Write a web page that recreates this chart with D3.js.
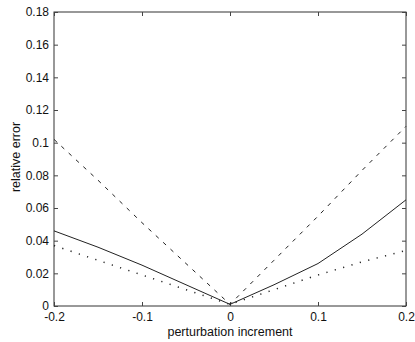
<html>
<head>
<script src="https://cdn.jsdelivr.net/npm/d3@7"></script>
<style>
  body { margin:0; background:#fff; }
  text { font-family: "Liberation Sans", Arial, sans-serif; fill:#111; }
  .line { fill:none; stroke:#222; }
</style>
</head>
<body>
<script>
// data
var xs        = [-0.2, -0.15, -0.1, -0.05, 0, 0.05, 0.1, 0.15, 0.2];
var solidVals = [0.046, 0.036, 0.025, 0.013, 0.001, 0.013, 0.026, 0.044, 0.065];
var dashVals  = [0.102, 0.077, 0.051, 0.026, 0.001, 0.028, 0.055, 0.083, 0.110];
var dotVals   = [0.037, 0.028, 0.019, 0.010, 0.001, 0.010, 0.019, 0.027, 0.034];
var xTicks = [-0.2, -0.1, 0, 0.1, 0.2];
var yTicks = [0, 0.02, 0.04, 0.06, 0.08, 0.1, 0.12, 0.14, 0.16, 0.18];

var margin = {top:12, left:54, right:9, bottom:36},
    W = 415, H = 342,
    width = W - margin.left - margin.right,
    height = H - margin.top - margin.bottom;

var x = d3.scaleLinear().domain([-0.2, 0.2]).range([0, width]);
var y = d3.scaleLinear().domain([0, 0.18]).range([height, 0]);

var svg = d3.select("body").append("svg").attr("width", W).attr("height", H);
var g = svg.append("g").attr("transform", "translate(" + margin.left + "," + margin.top + ")");

// box
g.append("rect").attr("width", width).attr("height", height)
  .attr("fill", "none").attr("stroke", "#333").attr("stroke-width", 1);

// axes with inward ticks
var fmt = function(d){ return d === 0 ? "0" : String(+d.toFixed(2)); };
g.append("g").attr("transform", "translate(0," + height + ")")
  .call(d3.axisBottom(x).tickValues(xTicks).tickSize(-4).tickPadding(6).tickFormat(fmt));
g.append("g")
  .call(d3.axisLeft(y).tickValues(yTicks).tickSize(-4).tickPadding(5).tickFormat(fmt));
g.append("g").attr("transform", "translate(" + width + ",0)")
  .call(d3.axisRight(y).tickValues(yTicks).tickSize(-4).tickFormat(""));
g.append("g")
  .call(d3.axisTop(x).tickValues(xTicks).tickSize(-4).tickFormat(""));
g.selectAll(".domain").remove();
g.selectAll(".tick line").attr("stroke", "#444");
g.selectAll(".tick text").style("font-size", "12px").attr("fill", "#111");

function mk(vals) {
  return d3.line()
    .x(function(d, i){ return x(xs[i]); }).y(function(d){ return y(d); })(vals);
}
g.append("path").attr("class", "line").attr("d", mk(solidVals)).attr("stroke-width", 1);
g.append("path").attr("class", "line").attr("d", mk(dashVals))
  .attr("stroke-width", 1).attr("stroke", "#555").attr("stroke-dasharray", "4,6");
g.append("path").attr("class", "line").attr("d", mk(dotVals))
  .attr("stroke-width", 1.5).attr("stroke", "#333").attr("stroke-dasharray", "1.2,7.5");

// labels
svg.append("text").attr("x", margin.left + width / 2).attr("y", 336)
  .attr("text-anchor", "middle").style("font-size", "12.5px").text("perturbation increment");
svg.append("text").attr("transform", "translate(20,157) rotate(-90)")
  .attr("text-anchor", "middle").style("font-size", "12.5px").text("relative error");
</script>
</body>
</html>
